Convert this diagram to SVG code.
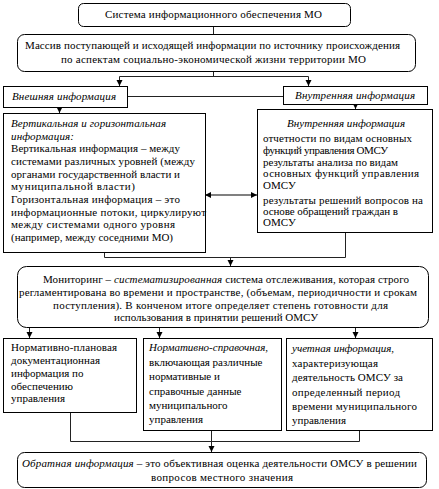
<svg xmlns="http://www.w3.org/2000/svg" width="439" height="489" viewBox="0 0 439 489">
<defs>
<style>
.box{fill:#fff;stroke:#000;stroke-width:1}
.t{font-family:"Liberation Serif","Times New Roman",serif;font-size:11px;fill:#000}
.i{font-style:italic}
.c{text-anchor:middle}
.conn{stroke:#222;stroke-width:1;fill:none}
.dbl{stroke:#808080;stroke-width:2;fill:none}
</style>
<marker id="ah" markerUnits="userSpaceOnUse" markerWidth="7" markerHeight="7" refX="6" refY="3" orient="auto">
<path d="M0,0 L6,3 L0,6 z" fill="#000"/>
</marker>
<marker id="ahs" markerUnits="userSpaceOnUse" markerWidth="7" markerHeight="7" refX="0" refY="3" orient="auto">
<path d="M6,0 L0,3 L6,6 z" fill="#000"/>
</marker>
</defs>
<g id="connectors">
<path class="conn" d="M213.5,26 V34"/>
<path class="conn" d="M213.5,71 V76.5"/>
<path class="conn" d="M119.5,76.5 H308.5"/>
<path class="conn" d="M119.5,76.5 V86" marker-end="url(#ah)"/>
<path class="conn" d="M308.5,76.5 V86" marker-end="url(#ah)"/>
<path class="conn" d="M127,96.5 H283"/>
<path class="conn" d="M59.5,107 V113" marker-end="url(#ah)"/>
<path class="conn" d="M355.5,104 V109" marker-end="url(#ah)"/>
<path class="dbl" d="M205,195 H257" marker-start="url(#ahs)" marker-end="url(#ah)"/>
<path class="conn" d="M104.5,252 V257.5 H345.5 V232"/>
<path class="conn" d="M230.5,257.5 V266" marker-end="url(#ah)"/>
<path class="conn" d="M29.5,327 V338" marker-end="url(#ah)"/>
<path class="conn" d="M159.5,327 V338" marker-end="url(#ah)"/>
<path class="conn" d="M355.5,327 V338" marker-end="url(#ah)"/>
<path class="conn" d="M70.5,412 V441.5 H359.5 V430"/>
<path class="conn" d="M211.5,430 V452" marker-end="url(#ah)"/>
</g>
<g id="n1">
<rect class="box" x="78.5" y="3.5" width="272" height="23" rx="5"/>
<text class="t" x="105" y="18" textLength="217" lengthAdjust="spacing">Система информационного обеспечения МО</text>
</g>
<g id="n2">
<rect class="box" x="17.5" y="34.5" width="398" height="37" rx="7"/>
<text class="t" x="25" y="49" textLength="375" lengthAdjust="spacing">Массив поступающей и исходящей информации по источнику происхождения</text>
<text class="t" x="61" y="63" textLength="305" lengthAdjust="spacing">по аспектам социально-экономической жизни территории МО</text>
</g>
<g id="n3">
<rect class="box" x="3.5" y="86.5" width="124" height="21"/>
<text class="t i" x="12" y="100" textLength="104" lengthAdjust="spacing">Внешняя информация</text>
</g>
<g id="n4">
<rect class="box" x="283.5" y="86.5" width="144" height="18"/>
<text class="t i" x="295" y="99" textLength="120" lengthAdjust="spacing">Внутренняя информация</text>
</g>
<g id="n5">
<rect class="box" x="3.5" y="113.5" width="202" height="139"/>
<text class="t i" x="11" y="127" textLength="155" lengthAdjust="spacing">Вертикальная и горизонтальная</text>
<text class="t i" x="11" y="140" textLength="63" lengthAdjust="spacing">информация:</text>
<text class="t" x="11" y="152" textLength="169" lengthAdjust="spacing">Вертикальная информация – между</text>
<text class="t" x="11" y="165" textLength="184" lengthAdjust="spacing">системами различных уровней (между</text>
<text class="t" x="11" y="178" textLength="169" lengthAdjust="spacing">органами государственной власти и</text>
<text class="t" x="11" y="190" textLength="124" lengthAdjust="spacing">муниципальной власти)</text>
<text class="t" x="11" y="203" textLength="169" lengthAdjust="spacing">Горизонтальная информация – это</text>
<text class="t" x="11" y="216" textLength="195" lengthAdjust="spacing">информационные потоки, циркулируют</text>
<text class="t" x="11" y="228" textLength="164" lengthAdjust="spacing">между системами одного уровня</text>
<text class="t" x="11" y="241" textLength="162" lengthAdjust="spacing">(например, между соседними МО)</text>
</g>
<g id="n6">
<rect class="box" x="257.5" y="109.5" width="175" height="123"/>
<text class="t i" x="287" y="127" textLength="118" lengthAdjust="spacing">Внутренняя информация</text>
<text class="t" x="263" y="142" textLength="149" lengthAdjust="spacing">отчетности по видам основных</text>
<text class="t" x="263" y="154" textLength="125" lengthAdjust="spacing">функций  управления ОМСУ</text>
<text class="t" x="263" y="166" textLength="135" lengthAdjust="spacing">результаты анализа по видам</text>
<text class="t" x="263" y="177" textLength="156" lengthAdjust="spacing">основных функций  управления</text>
<text class="t" x="263" y="189">ОМСУ</text>
<text class="t" x="263" y="204" textLength="160" lengthAdjust="spacing">результаты решений вопросов на</text>
<text class="t" x="263" y="215" textLength="135" lengthAdjust="spacing">основе обращений граждан в</text>
<text class="t" x="263" y="226">ОМСУ</text>
</g>
<g id="n7">
<rect class="box" x="17.5" y="266.5" width="411" height="61" rx="9"/>
<text class="t" x="43" y="283" textLength="366" lengthAdjust="spacing">Мониторинг – <tspan class="i">систематизированная</tspan> система отслеживания, которая строго</text>
<text class="t" x="19" y="296" textLength="398" lengthAdjust="spacing">регламентирована во времени и пространстве, (объемам, периодичности и срокам</text>
<text class="t" x="53" y="309" textLength="335" lengthAdjust="spacing">поступления). В конченом итоге определяет степень готовности для</text>
<text class="t" x="114" y="321" textLength="204" lengthAdjust="spacing">использования в принятии  решений ОМСУ</text>
</g>
<g id="n8">
<rect class="box" x="3.5" y="338.5" width="133" height="74"/>
<text class="t" x="11" y="351" textLength="106" lengthAdjust="spacing">Нормативно-плановая</text>
<text class="t" x="11" y="364" textLength="89" lengthAdjust="spacing">документационная</text>
<text class="t" x="11" y="377">информация по</text>
<text class="t" x="11" y="390">обеспечению</text>
<text class="t" x="11" y="402">управления</text>
</g>
<g id="n9">
<rect class="box" x="143.5" y="338.5" width="138" height="92"/>
<text class="t" x="149" y="351"><tspan class="i">Нормативно-справочная</tspan>,</text>
<text class="t" x="149" y="366">включающая различные</text>
<text class="t" x="149" y="380">нормативные и</text>
<text class="t" x="149" y="395">справочные данные</text>
<text class="t" x="149" y="409">муниципального</text>
<text class="t" x="149" y="423">управления</text>
</g>
<g id="n10">
<rect class="box" x="286.5" y="338.5" width="146" height="92"/>
<text class="t" x="292" y="352"><tspan class="i">учетная информация</tspan>,</text>
<text class="t" x="292" y="367" textLength="86" lengthAdjust="spacing">характеризующая</text>
<text class="t" x="292" y="381" textLength="111" lengthAdjust="spacing">деятельность ОМСУ за</text>
<text class="t" x="292" y="396" textLength="108" lengthAdjust="spacing">определенный период</text>
<text class="t" x="292" y="410" textLength="125" lengthAdjust="spacing">времени муниципального</text>
<text class="t" x="292" y="424">управления</text>
</g>
<g id="n11">
<rect class="box" x="17.5" y="452.5" width="409" height="35" rx="7"/>
<text class="t" x="22" y="467" textLength="395" lengthAdjust="spacing"><tspan class="i">Обратная информация</tspan> – это объективная оценка деятельности ОМСУ в решении</text>
<text class="t" x="151" y="481" textLength="142" lengthAdjust="spacing">вопросов местного значения</text>
</g>
</svg>
